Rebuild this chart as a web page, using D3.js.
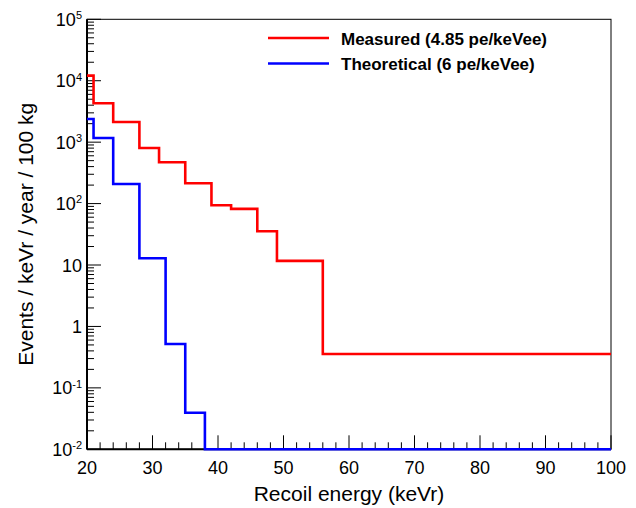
<!DOCTYPE html>
<html>
<head>
<meta charset="utf-8">
<script src="https://cdn.jsdelivr.net/npm/d3@7"></script>
<style>
  html, body { margin: 0; padding: 0; background: #fff; }
  svg { display: block; }
  text { font-family: "Liberation Sans", Arial, Helvetica, sans-serif; fill: #000; }
</style>
</head>
<body>
<svg id="chart" width="636" height="508"></svg>
<script>
// ---- data ----
const measuredEdges = [20, 21, 24, 28, 31, 35, 39, 42, 46, 49, 56, 100];
const measuredValues = [12100, 4300, 2130, 804, 470, 214, 94, 82, 35.4, 11.7, 0.356];
const theoreticalEdges = [20, 21, 24, 28, 32, 35, 38, 100];
const theoreticalValues = [2380, 1170, 208, 12.9, 0.518, 0.0394, 0.01];
const seriesNames = ["Measured (4.85 pe/keVee)", "Theoretical (6 pe/keVee)"];
const xTickValues = [20, 30, 40, 50, 60, 70, 80, 90, 100];
const yDecades = [-2, -1, 0, 1, 2, 3, 4, 5];
const xTitle = "Recoil energy (keVr)";
const yTitle = "Events / keVr / year / 100 kg";

// ---- layout ----
const W = 636, H = 508;
const L = 87, R = 611, T = 19.3, B = 449.3;
const svg = d3.select("#chart");

const x = d3.scaleLinear().domain([20, 100]).range([L, R]);
const y = d3.scaleLog().domain([1e-2, 1e5]).range([B, T]).clamp(true);

svg.append("defs").append("clipPath").attr("id", "clip")
  .append("rect").attr("x", L).attr("y", T).attr("width", R - L).attr("height", B - T + 2);

// frame
svg.append("rect").attr("x", L).attr("y", T).attr("width", R - L).attr("height", B - T)
  .attr("fill", "none").attr("stroke", "#000").attr("stroke-width", 1);

// x axis (ticks inward)
const xMinor = d3.range(20, 100.001, 2);
const xAxis = svg.append("g");
xAxis.selectAll("line.minor").data(xMinor).join("line")
  .attr("x1", d => x(d)).attr("x2", d => x(d))
  .attr("y1", B).attr("y2", d => (d % 10 === 0) ? B - 14 : B - 7)
  .attr("stroke", "#000").attr("stroke-width", 1);
xAxis.append("line").attr("x1", L).attr("x2", R).attr("y1", B).attr("y2", B)
  .attr("stroke", "#000").attr("stroke-width", 2);
xAxis.selectAll("text").data(xTickValues).join("text")
  .attr("x", d => x(d)).attr("y", 473.5).attr("text-anchor", "middle")
  .attr("font-size", 18).text(d => d);

// y axis
const yAxis = svg.append("g");
const yMinor = [];
yDecades.slice(0, -1).forEach(k => { for (let m = 2; m <= 9; m++) yMinor.push(m * Math.pow(10, k)); });
yAxis.selectAll("line.minor").data(yMinor).join("line")
  .attr("x1", L).attr("x2", L + 7).attr("y1", d => y(d)).attr("y2", d => y(d))
  .attr("stroke", "#000").attr("stroke-width", 1);
yAxis.selectAll("line.major").data(yDecades).join("line")
  .attr("x1", L).attr("x2", L + 14).attr("y1", d => y(Math.pow(10, d))).attr("y2", d => y(Math.pow(10, d)))
  .attr("stroke", "#000").attr("stroke-width", 1);
yAxis.append("line").attr("x1", L).attr("x2", L).attr("y1", T).attr("y2", B)
  .attr("stroke", "#000").attr("stroke-width", 2);
yDecades.forEach(k => {
  const yy = y(Math.pow(10, k)) + 6.6;
  const t = yAxis.append("text").attr("x", 82).attr("y", yy).attr("text-anchor", "end").attr("font-size", 18);
  if (k === 0) t.text("1");
  else if (k === 1) t.text("10");
  else {
    t.append("tspan").text("10");
    t.append("tspan").attr("font-size", 11).attr("dy", -6.8).text(k);
  }
});

// histograms (drawn over the axes)
function stepPoints(edges, vals) {
  const pts = [];
  vals.forEach((v, i) => { pts.push([edges[i], v]); pts.push([edges[i + 1], v]); });
  return pts;
}
const line = d3.line().x(d => x(d[0])).y(d => y(d[1]));
const hist = svg.append("g").attr("clip-path", "url(#clip)");
hist.append("path").datum(stepPoints(measuredEdges, measuredValues))
  .attr("d", line).attr("fill", "none").attr("stroke", "#ff0000").attr("stroke-width", 2.6);
hist.append("path").datum(stepPoints(theoreticalEdges, theoreticalValues))
  .attr("d", line).attr("fill", "none").attr("stroke", "#0000ff").attr("stroke-width", 2.6);

// titles
svg.append("text").attr("x", (L + R) / 2).attr("y", 500.5).attr("text-anchor", "middle")
  .attr("font-size", 21).text(xTitle);
svg.append("text").attr("transform", `translate(33,${(T + B) / 2}) rotate(-90)`)
  .attr("text-anchor", "middle").attr("font-size", 21).text(yTitle);

// legend
const legY = [38, 63.5];
const colors = ["#ff0000", "#0000ff"];
seriesNames.forEach((name, i) => {
  svg.append("line").attr("x1", 268).attr("x2", 329).attr("y1", legY[i]).attr("y2", legY[i])
    .attr("stroke", colors[i]).attr("stroke-width", 2.6);
  svg.append("text").attr("x", 341).attr("y", legY[i] + 6.5).attr("font-size", 17)
    .attr("font-weight", "bold").text(name);
});
</script>
</body>
</html>
